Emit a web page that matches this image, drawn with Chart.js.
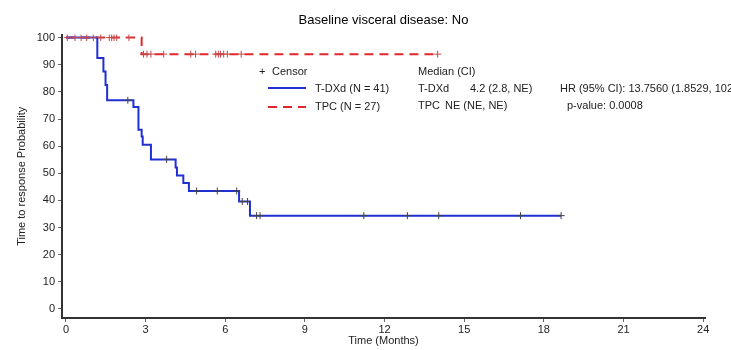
<!DOCTYPE html>
<html>
<head>
<meta charset="utf-8">
<script src="https://cdn.jsdelivr.net/npm/chart.js@4"></script>
<style>
  html, body { margin: 0; padding: 0; background: #fff; }
  #c { display: block; }
</style>
</head>
<body>
<canvas id="c" width="731" height="350"></canvas>
<script>
// ---- Data ----
const xTicks = [0, 3, 6, 9, 12, 15, 18, 21, 24];
const yTicks = [0, 10, 20, 30, 40, 50, 60, 70, 80, 90, 100];

// T-DXd (N = 41) Kaplan-Meier steps
const tdxdTime = [0, 1.18, 1.41, 1.49, 1.55, 2.54, 2.73, 2.85, 2.89, 3.2, 4.13, 4.18, 4.42, 4.63, 6.52, 6.93, 18.65];
const tdxdSurv = [100, 92.5, 87.5, 82.5, 76.9, 74.4, 66.0, 63.6, 60.5, 55.1, 52.1, 49.2, 46.4, 43.5, 39.6, 34.4, 34.4];
// T-DXd censor marks
const tdxdCensorTime = [2.33, 3.79, 4.92, 5.7, 6.43, 6.64, 6.84, 7.18, 7.31, 11.22, 12.86, 14.04, 17.12, 18.65];
const tdxdCensorSurv = [76.9, 55.1, 43.5, 43.5, 43.5, 39.6, 39.6, 34.4, 34.4, 34.4, 34.4, 34.4, 34.4, 34.4];

// TPC (N = 27) Kaplan-Meier steps
const tpcTime = [0, 2.85, 14.0];
const tpcSurv = [100, 93.9, 93.9];
// TPC censor marks
const tpcCensorTime = [0.05, 0.34, 0.57, 0.78, 1.03, 1.31, 1.63, 1.72, 1.81, 1.91, 2.37,
                       2.92, 3.05, 3.2, 3.68, 4.7, 4.88, 5.64, 5.74, 5.82, 5.94, 6.08, 6.6, 14.0];
const tpcCensorSurv = [100, 100, 100, 100, 100, 100, 100, 100, 100, 100, 100,
                       93.9, 93.9, 93.9, 93.9, 93.9, 93.9, 93.9, 93.9, 93.9, 93.9, 93.9, 93.9, 93.9];

const FONT = "'Liberation Sans', Arial, sans-serif";
const toPts = (xs, ys) => xs.map((x, i) => ({ x: x, y: ys[i] }));

// Inline legend / statistics block
const statsPlugin = {
  id: 'stats',
  afterDraw(chart) {
    const ctx = chart.ctx;
    ctx.save();
    ctx.font = '11px ' + FONT;
    ctx.fillStyle = '#222';
    ctx.textBaseline = 'middle';
    ctx.textAlign = 'left';
    // Censor key
    ctx.fillText('+', 259, 72);
    ctx.fillText('Censor', 272, 72);
    // line samples
    ctx.lineWidth = 2;
    ctx.strokeStyle = '#1f2fd2';
    ctx.setLineDash([]);
    ctx.beginPath(); ctx.moveTo(268, 88); ctx.lineTo(306, 88); ctx.stroke();
    ctx.strokeStyle = '#e3262c';
    ctx.setLineDash([9, 6]);
    ctx.beginPath(); ctx.moveTo(268, 107); ctx.lineTo(306, 107); ctx.stroke();
    ctx.setLineDash([]);
    ctx.fillText('T-DXd (N = 41)', 315, 89);
    ctx.fillText('TPC (N = 27)', 315, 107);
    // medians
    ctx.fillText('Median (CI)', 418, 72);
    ctx.fillText('T-DXd', 418, 89);
    ctx.fillText('4.2 (2.8, NE)', 470, 89);
    ctx.fillText('TPC', 418, 106);
    ctx.fillText('NE (NE, NE)', 445, 106);
    // HR
    ctx.fillText('HR (95% CI): 13.7560 (1.8529, 102.12', 560, 89);
    ctx.fillText('p-value: 0.0008', 567, 106);
    ctx.restore();
  }
};

new Chart(document.getElementById('c'), {
  type: 'line',
  data: {
    datasets: [
      {
        label: 'T-DXd censor',
        data: toPts(tdxdCensorTime, tdxdCensorSurv),
        showLine: false,
        pointStyle: 'cross',
        pointRadius: 3.5,
        pointBorderWidth: 1,
        pointBorderColor: '#444',
        borderColor: '#444'
      },
      {
        label: 'TPC censor',
        data: toPts(tpcCensorTime, tpcCensorSurv),
        showLine: false,
        pointStyle: 'cross',
        pointRadius: 3.5,
        pointBorderWidth: 1,
        pointBorderColor: '#c84a4a',
        borderColor: '#c84a4a'
      },
      {
        label: 'T-DXd (N = 41)',
        data: toPts(tdxdTime, tdxdSurv),
        stepped: true,
        borderColor: '#1f2fd2',
        borderWidth: 2,
        pointRadius: 0,
        fill: false
      },
      {
        label: 'TPC (N = 27)',
        data: toPts(tpcTime, tpcSurv),
        stepped: true,
        borderColor: '#e3262c',
        borderWidth: 2,
        borderDash: [9, 6],
        pointRadius: 0,
        fill: false
      }
    ]
  },
  options: {
    responsive: false,
    animation: false,
    devicePixelRatio: 1,
    layout: { padding: { left: 0, right: 26, top: 0, bottom: 0 } },
    plugins: {
      legend: { display: false },
      tooltip: { enabled: false },
      title: {
        display: true,
        fullSize: false,
        text: 'Baseline visceral disease: No',
        color: '#000',
        font: { family: FONT, size: 13, weight: 'normal' },
        padding: { top: 13, bottom: 6 }
      }
    },
    scales: {
      x: {
        type: 'linear',
        min: -0.15,
        max: 24.07,
        afterBuildTicks: s => { s.ticks = xTicks.map(v => ({ value: v })); },
        afterFit: s => { s.height = 32; },
        ticks: { color: '#222', font: { family: FONT, size: 11 }, padding: 1, maxRotation: 0 },
        grid: { display: true, drawOnChartArea: false, drawTicks: true, tickLength: 4, color: '#666' },
        border: { display: true, color: '#333', width: 2 },
        title: {
          display: true, text: 'Time (Months)', color: '#222',
          font: { family: FONT, size: 11 }, padding: { top: 0, bottom: 2 }
        }
      },
      y: {
        type: 'linear',
        min: -3.32,
        max: 101.1,
        afterBuildTicks: s => { s.ticks = yTicks.map(v => ({ value: v })); },
        afterFit: s => { s.width = 62; },
        ticks: { color: '#222', font: { family: FONT, size: 11 }, padding: 3 },
        grid: { display: true, drawOnChartArea: false, drawTicks: true, tickLength: 4, color: '#666' },
        border: { display: true, color: '#333', width: 2 },
        title: {
          display: true, text: 'Time to response Probability', color: '#222',
          font: { family: FONT, size: 11 }, padding: { top: 15, bottom: 0 }
        }
      }
    }
  },
  plugins: [statsPlugin]
});
</script>
</body>
</html>
